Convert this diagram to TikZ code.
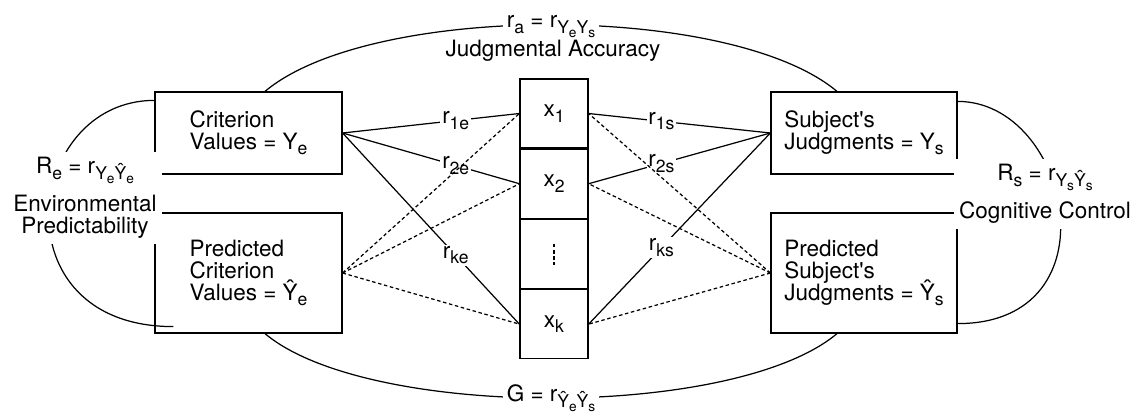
\documentclass[tikz,border=0pt]{standalone}
\usepackage{fontspec}
\setmainfont{TeX Gyre Heros}
\usetikzlibrary{positioning, calc}
\newcommand{\sbs}[1]{\raisebox{-0.45ex}{\scalebox{0.78}{#1}}}
\newcommand{\yhat}{\^{Y}}
\newcommand{\apos}{\textquotesingle}
\newcommand{\figfont}{\fontsize{12.8pt}{12.6pt}\selectfont\setlength{\lineskiplimit}{-8pt}}
\tikzset{
    box/.style={rectangle, draw, line width=0.7pt, align=left, minimum width=3.74cm},
    cell/.style={rectangle, draw, line width=0.7pt, minimum width=1.36cm, minimum height=1.38cm, inner sep=0pt},
    corr/.style={line width=0.7pt},
    guess/.style={line width=0.7pt, dash pattern=on 2pt off 1.5pt},
    lbl/.style={fill=white, inner sep=1pt},
    arcline/.style={line width=0.7pt},
}
\begin{document}
\begin{tikzpicture}[x=0.02cm, y=0.02cm, font=\figfont]
    \useasboundingbox (0,0) rectangle (1133,414);

    % Umwelt
    \node[box, minimum height=1.64cm] (crit) at (248.5,281) {Criterion\\Values = Y\sbs{e}};
    \node[box, minimum height=2.4cm] (pred) at (248.5,141) {Predicted\\Criterion\\Values = \yhat\sbs{e}};

    % Urteiler
    \node[box, minimum width=3.72cm, minimum height=1.64cm] (subj) at (864,281) {Subject\apos s\\Judgments = Y\sbs{s}};
    \node[box, minimum width=3.72cm, minimum height=2.4cm] (psubj) at (864,141) {Predicted\\Subject\apos s\\Judgments = \yhat\sbs{s}};

    % Hinweise
    \node[cell] (x1) at (554,300.5) {x\sbs{1}};
    \node[cell, below=0pt of x1] (x2) {x\sbs{2}};
    \node[cell, below=0pt of x2] (xdots) {};
    \node[cell, below=0pt of xdots] (xk) {x\sbs{k}};
    \draw[guess, line width=0.6pt] ($(xdots.center)+(0,10)$) -- ($(xdots.center)+(0,-11)$);

    % Validitaeten
    \draw[corr] (crit.east) -- node[lbl, pos=0.64] {r\sbs{1e}} (x1.west);
    \draw[corr] (crit.east) -- node[lbl, pos=0.64] {r\sbs{2e}} (x2.west);
    \draw[corr] (crit.east) -- node[lbl, pos=0.64] {r\sbs{ke}} (xk.west);
    \draw[corr] (subj.west) -- node[lbl, pos=0.6] {r\sbs{1s}} (x1.east);
    \draw[corr] (subj.west) -- node[lbl, pos=0.6] {r\sbs{2s}} (x2.east);
    \draw[corr] (subj.west) -- node[lbl, pos=0.6] {r\sbs{ks}} (xk.east);

    \foreach \c in {x1,x2,xk} {
        \draw[guess] (pred.east) -- (\c.west);
        \draw[guess] (psubj.west) -- (\c.east);
    }

    % Boegen
    \draw[arcline] ($(crit.north)+(16.5,0)$) to[out=40, in=140, looseness=0.62]
        node[lbl, midway, inner sep=2pt, yshift=-0.04cm] (ra) {r\sbs{a} = r\sbs{Y\sbs{e}Y\sbs{s}}} ($(subj.north)+(-27,0)$);
    \node (acc) at (553,363) {Judgmental Accuracy};
    \draw[arcline] ($(pred.south)+(16.5,0)$) to[out=-40, in=-140, looseness=0.6]
        node[lbl, midway, inner sep=2pt] (g) {G = r\sbs{\yhat\sbs{e}\yhat\sbs{s}}} ($(psubj.south)+(-27,0)$);
    \draw[arcline] ($(crit.north west)+(0,-9)$) .. controls +(-130,0) and +(-177,0) .. ($(pred.south west)+(19,7)$);
    \draw[arcline] ($(subj.north east)+(0,-10)$) .. controls +(113,0) and +(160,0) .. ($(psubj.south east)+(0,10)$);

    \node[lbl, align=center, inner sep=3pt] (envlbl) at (85,216) {R\sbs{e} = r\sbs{Y\sbs{e}\yhat\sbs{e}}\\[9pt]Environmental\\Predictability};
    \node[lbl, align=center, inner sep=3pt] (coglbl) at (1045,220) {R\sbs{s} = r\sbs{Y\sbs{s}\yhat\sbs{s}}\\[9pt]Cognitive Control};
\end{tikzpicture}
\end{document}
